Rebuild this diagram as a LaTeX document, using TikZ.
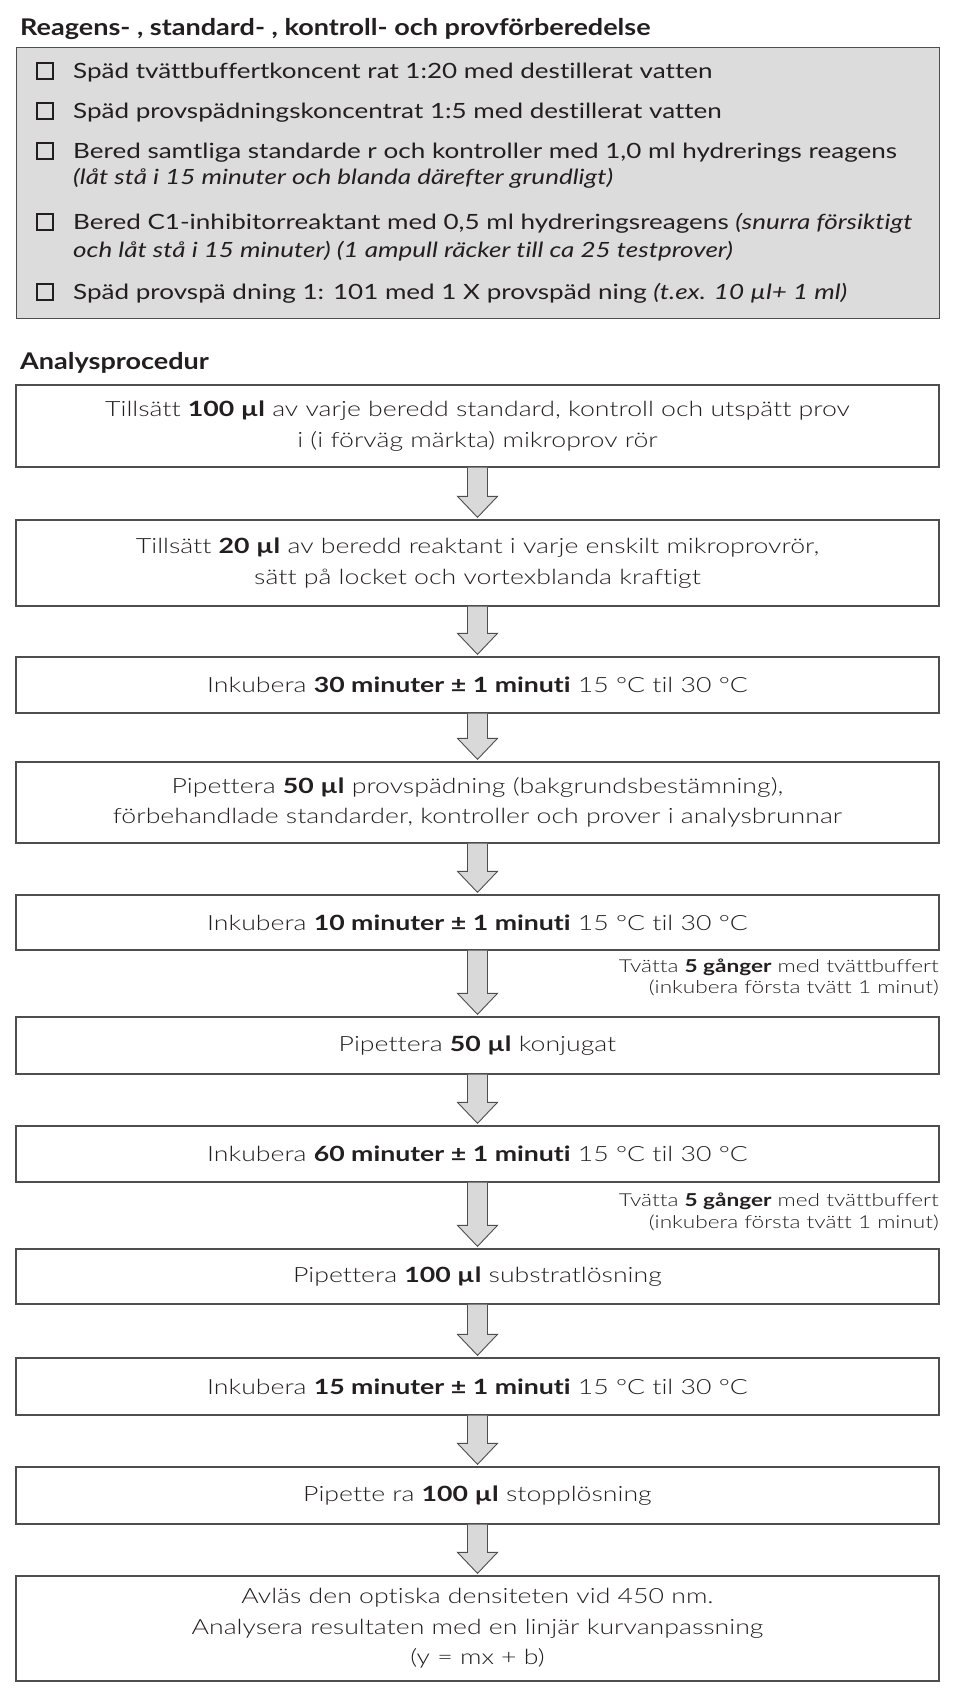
\documentclass[tikz,border=0pt]{standalone}
\usepackage{fontspec}
\setmainfont{Lato}[FakeStretch=1.24, Ligatures=NoCommon]
\newfontfamily\headfont{Lato Bold}[FakeStretch=1.175, Ligatures=NoCommon]
\newfontfamily\lightfont{Lato Light}[BoldFont={Lato Bold}, FakeStretch=1.27, Ligatures=NoCommon]
\usetikzlibrary{calc}
\definecolor{ink}{HTML}{231F20}
\definecolor{edge}{HTML}{4E4E4E}
\definecolor{panelgray}{HTML}{DCDCDD}
\definecolor{arrowgray}{HTML}{D9D9D9}
\tikzset{
  heading/.style={anchor=base west, inner sep=0pt, text=ink, font=\headfont\fontsize{23}{27}\selectfont},
  item/.style={anchor=base west, inner sep=0pt, text=ink, font=\fontsize{21}{27}\selectfont},
  chk/.style={draw=ink, line width=1.6pt, minimum size=15.5pt, inner sep=0pt},
  stepbox/.style={draw=edge, line width=1.3pt, fill=white, minimum width=923pt, inner sep=0pt, align=center, text=ink, font=\lightfont\fontsize{21}{30.5}\selectfont},
  washnote/.style={anchor=base east, inner sep=0pt, text=ink, font=\lightfont\fontsize{17.8}{22}\selectfont},
  flowarrow/.style={draw=edge, fill=arrowgray, line width=0.9pt, line join=miter},
}
\newcommand{\flowstep}[2]{%
  \filldraw[flowarrow] ($(#1.south)+(-10,0)$) -- ($(#2.north)+(-10,23)$) -- ($(#2.north)+(-20,23)$) -- ($(#2.north)+(0,2)$) -- ($(#2.north)+(20,23)$) -- ($(#2.north)+(10,23)$) -- ($(#1.south)+(10,0)$);}
\begin{document}
\begin{tikzpicture}[x=1pt,y=1pt]
\useasboundingbox (0,0) rectangle (959,-1689);
% ---- preparation panel
\node[heading] (title1) at (20,-35) {Reagens- , standard- , kontroll- och provförberedelse};
\node[draw=edge, fill=panelgray, line width=1.3pt, anchor=north west, minimum width=923pt, minimum height=271pt, inner sep=0pt] (panel) at (16,-47) {};
\node[chk] (c1) at (45,-71) {};
\node[chk] (c2) at (45,-111) {};
\node[chk] (c3) at (45,-151) {};
\node[chk] (c4) at (45,-222) {};
\node[chk] (c5) at (45,-292) {};
\node[item] (i1) at (73,-78.5) {Späd tvättbuffertkoncent rat 1:20 med destillerat vatten};
\node[item] (i2) at (73,-118.5) {Späd provspädningskoncentrat 1:5 med destillerat vatten};
\node[item] (i3) at (73,-158.5) {Bered samtliga standarde r och kontroller med 1,0 ml hydrerings reagens};
\node[item] (i3b) at (73,-184) {\itshape (låt stå i 15 minuter och blanda därefter grundligt)};
\node[item] (i4) at (73,-229.5) {Bered C1-inhibitorreaktant med 0,5 ml hydreringsreagens \textit{(snurra försiktigt}};
\node[item] (i4b) at (73,-257) {\itshape och låt stå i 15 minuter) (1 ampull räcker till ca 25 testprover)};
\node[item] (i5) at (73,-299.5) {Späd provspä dning 1: 101 med 1 X provspäd ning \textit{(t.ex. 10 µl+ 1 ml)}};
% ---- analysis procedure
\node[heading] (title2) at (20,-369) {Analysprocedur};
\node[stepbox, minimum height=82pt] (b1) at (477.5,-426) {Tillsätt \textbf{100 µl} av varje beredd standard, kontroll och utspätt prov\\ i (i förväg märkta) mikroprov rör};
\node[stepbox, minimum height=86pt] (b2) at (477.5,-563) {Tillsätt \textbf{20 µl} av beredd reaktant i varje enskilt mikroprovrör,\\ sätt på locket och vortexblanda kraftigt};
\node[stepbox, minimum height=56pt] (b3) at (477.5,-685) {Inkubera \textbf{30 minuter ± 1 minuti} 15 °C til 30 °C};
\node[stepbox, minimum height=81pt] (b4) at (477.5,-802.5) {Pipettera \textbf{50 µl} provspädning (bakgrundsbestämning),\\ förbehandlade standarder, kontroller och prover i analysbrunnar};
\node[stepbox, minimum height=55pt] (b5) at (477.5,-922.5) {Inkubera \textbf{10 minuter ± 1 minuti} 15 °C til 30 °C};
\node[stepbox, minimum height=57pt] (b6) at (477.5,-1045.5) {Pipettera \textbf{50 µl} konjugat};
\node[stepbox, minimum height=56pt] (b7) at (477.5,-1154) {Inkubera \textbf{60 minuter ± 1 minuti} 15 °C til 30 °C};
\node[stepbox, minimum height=55pt] (b8) at (477.5,-1276.5) {Pipettera \textbf{100 µl} substratlösning};
\node[stepbox, minimum height=57pt] (b9) at (477.5,-1386.5) {Inkubera \textbf{15 minuter ± 1 minuti} 15 °C til 30 °C};
\node[stepbox, minimum height=57pt] (b10) at (477.5,-1495.5) {Pipette ra \textbf{100 µl} stopplösning};
\node[stepbox, minimum height=105pt] (b11) at (477.5,-1628.5) {Avläs den optiska densiteten vid 450 nm.\\ Analysera resultaten med en linjär kurvanpassning\\ (y = mx + b)};
\node[washnote] (w1a) at (939,-972) {Tvätta \textbf{5 gånger} med tvättbuffert};
\node[washnote] (w1b) at (939,-993) {(inkubera första tvätt 1 minut)};
\node[washnote] (w2a) at (939,-1206) {Tvätta \textbf{5 gånger} med tvättbuffert};
\node[washnote] (w2b) at (939,-1228) {(inkubera första tvätt 1 minut)};
\flowstep{b1}{b2}
\flowstep{b2}{b3}
\flowstep{b3}{b4}
\flowstep{b4}{b5}
\flowstep{b5}{b6}
\flowstep{b6}{b7}
\flowstep{b7}{b8}
\flowstep{b8}{b9}
\flowstep{b9}{b10}
\flowstep{b10}{b11}
\end{tikzpicture}
\end{document}
